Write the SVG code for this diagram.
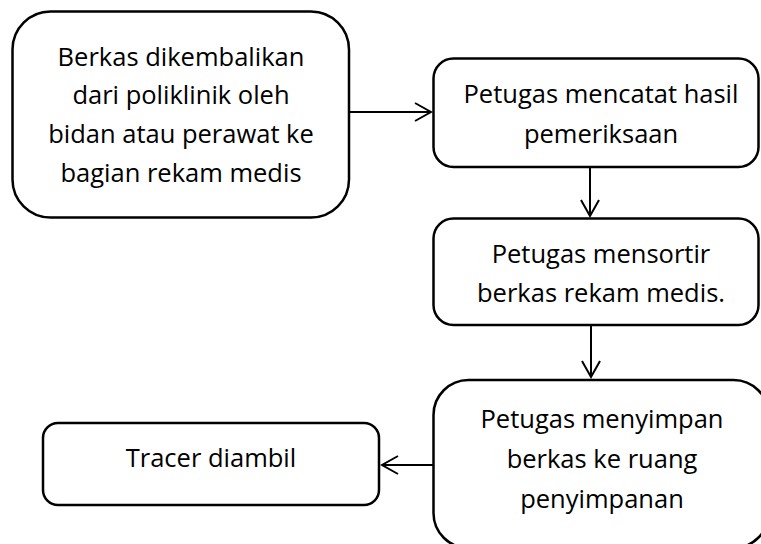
<svg xmlns="http://www.w3.org/2000/svg" width="761" height="544" viewBox="0 0 761 544">
<style>
.box{fill:#fff;stroke:#000;stroke-width:2.5}
.t{font-family:"Open Sans","Noto Sans",sans-serif;font-size:25.5px;fill:#000;text-anchor:middle}
.c{fill:none;stroke:#000;stroke-width:2}
</style>
<defs>
<marker id="ah" viewBox="0 0 20 20" refX="18" refY="10" markerWidth="20" markerHeight="20" markerUnits="userSpaceOnUse" orient="auto">
<path d="M2,1 L18,10 L2,19" fill="none" stroke="#000" stroke-width="2"/>
</marker>
</defs>
<rect width="761" height="544" fill="#fff"/>
<g id="connectors">
<line class="c" x1="349" y1="112" x2="431" y2="112" marker-end="url(#ah)"/>
<line class="c" x1="590" y1="167" x2="590" y2="216" marker-end="url(#ah)"/>
<line class="c" x1="591" y1="325" x2="591" y2="377" marker-end="url(#ah)"/>
<line class="c" x1="433" y1="465" x2="382" y2="465" marker-end="url(#ah)"/>
</g>
<g id="node1">
<rect class="box" x="12.5" y="11.5" width="336.5" height="206" rx="38"/>
<text class="t" x="181" y="65.5">Berkas dikembalikan</text>
<text class="t" x="181" y="104">dari poliklinik oleh</text>
<text class="t" x="181" y="143">bidan atau perawat ke</text>
<text class="t" x="181" y="182">bagian rekam medis</text>
</g>
<g id="node2">
<rect class="box" x="433.5" y="58.5" width="325" height="108.5" rx="20"/>
<text class="t" x="601" y="103">Petugas mencatat hasil</text>
<text class="t" x="601" y="143">pemeriksaan</text>
</g>
<g id="node3">
<rect class="box" x="433.5" y="218.5" width="325" height="106.5" rx="20"/>
<text class="t" x="601" y="263">Petugas mensortir</text>
<text class="t" x="601" y="302">berkas rekam medis.</text>
</g>
<g id="node4">
<rect class="box" x="433.5" y="380" width="335" height="168" rx="35"/>
<text class="t" x="602" y="428">Petugas menyimpan</text>
<text class="t" x="602" y="468">berkas ke ruang</text>
<text class="t" x="602" y="508">penyimpanan</text>
</g>
<g id="node5">
<rect class="box" x="43" y="423" width="336" height="82" rx="15"/>
<text class="t" x="211" y="467">Tracer diambil</text>
</g>
</svg>
